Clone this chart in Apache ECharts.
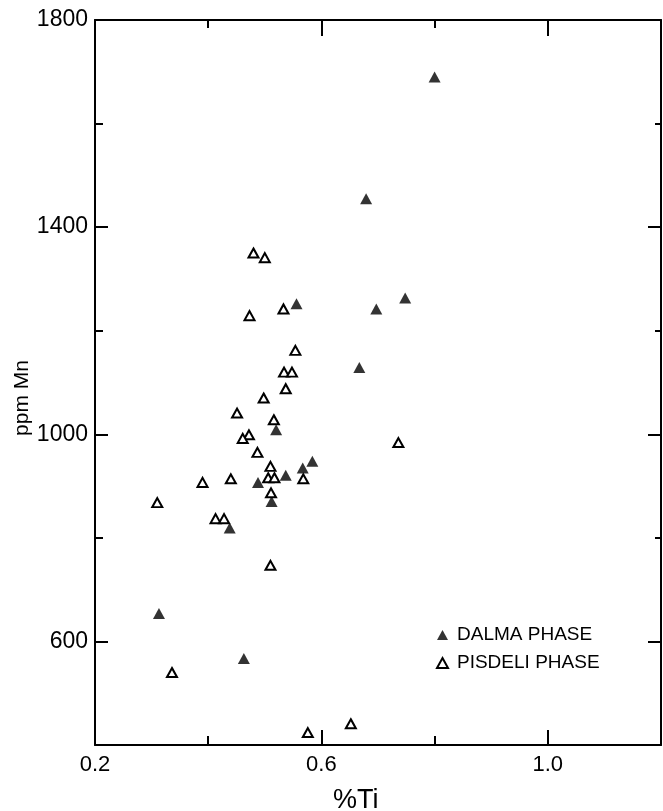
<!DOCTYPE html>
<html>
<head>
<meta charset="utf-8">
<script src="https://cdn.jsdelivr.net/npm/echarts@6/dist/echarts.min.js"></script>
<style>html,body{margin:0;padding:0;background:#fff}#c{width:663px;height:811px}</style>
</head>
<body>
<div id="c"></div>
<script>
// ---- data ----
var dalma = [
  [0.800, 1690], [0.679, 1455], [0.748, 1263], [0.556, 1252], [0.697, 1242],
  [0.667, 1129], [0.520, 1009], [0.584, 948], [0.567, 935], [0.537, 921],
  [0.488, 907], [0.512, 870], [0.438, 819], [0.313, 654], [0.463, 567]
];
var pisdeli = [
  [0.480, 1350], [0.500, 1341], [0.473, 1229], [0.533, 1242], [0.554, 1162],
  [0.534, 1120], [0.548, 1120], [0.537, 1088], [0.498, 1070], [0.451, 1041],
  [0.516, 1028], [0.472, 999], [0.461, 992], [0.487, 965], [0.510, 938],
  [0.506, 916], [0.517, 916], [0.568, 914], [0.440, 914], [0.390, 907],
  [0.511, 887], [0.310, 868], [0.413, 837], [0.428, 837], [0.510, 747],
  [0.336, 540], [0.576, 424], [0.652, 441], [0.736, 984]
];
var xLabels = [0.2, 0.6, 1.0];
var xMajorTicks = [0.6, 1.0];
var xMinorTicks = [0.4, 0.8];
var yLabels = [600, 1000, 1400, 1800];
var yMajorTicks = [600, 1000, 1400];
var yMinorTicks = [800, 1200, 1600];

var FONT = 'Liberation Sans';
var lineStyle = {color: '#000', width: 2};

function xAxisDef(pos, ticks, len, showLine, labels) {
  return {
    type: 'value', position: pos, min: 0.2, max: 1.2,
    axisLine: {show: showLine, onZero: false, lineStyle: lineStyle},
    axisTick: {show: true, inside: true, length: len, customValues: ticks, lineStyle: {color: '#000', width: 2}},
    axisLabel: labels ? {show: true, customValues: labels, margin: 9, color: '#000', fontFamily: FONT, fontSize: 22,
      formatter: function (v) { return Number(v).toFixed(1); }} : {show: false},
    splitLine: {show: false}
  };
}
function yAxisDef(pos, ticks, len, showLine, labels) {
  return {
    type: 'value', position: pos, min: 400, max: 1800,
    axisLine: {show: showLine, onZero: false, lineStyle: lineStyle},
    axisTick: {show: true, inside: true, length: len, customValues: ticks, lineStyle: {color: '#000', width: 2}},
    axisLabel: labels ? {show: true, customValues: labels, margin: 7, color: '#000', fontFamily: FONT, fontSize: 23,
      formatter: function (v) { return String(v); }} : {show: false},
    splitLine: {show: false}
  };
}

var option = {
  backgroundColor: '#fff',
  animation: false,
  grid: {left: 95, right: 2, top: 20, bottom: 66, containLabel: false},
  title: {text: '%Ti', left: 328, top: 782, textStyle: {fontFamily: FONT, fontSize: 27, fontWeight: 'normal', color: '#000'}},
  graphic: [{
    type: 'text', x: 22, y: 398, rotation: Math.PI / 2,
    style: {text: 'ppm Mn', fontFamily: FONT, fontSize: 21, fill: '#000', align: 'center', verticalAlign: 'middle'}
  }],
  legend: {
    orient: 'vertical', left: 431, top: 620, icon: 'triangle',
    itemWidth: 11, itemHeight: 10, itemGap: 8,
    textStyle: {fontFamily: FONT, fontSize: 19, color: '#000', lineHeight: 20, padding: [0, 0, 0, 4]},
    data: ['DALMA PHASE', 'PISDELI PHASE']
  },
  xAxis: [
    xAxisDef('bottom', xMajorTicks, 15, true, xLabels),
    xAxisDef('bottom', xMinorTicks, 9, false, null),
    xAxisDef('top', xMajorTicks, 16, true, null),
    xAxisDef('top', xMinorTicks, 8, false, null)
  ],
  yAxis: [
    yAxisDef('left', yMajorTicks, 13, true, yLabels),
    yAxisDef('left', yMinorTicks, 8, false, null),
    yAxisDef('right', yMajorTicks, 13, true, null),
    yAxisDef('right', yMinorTicks, 6, false, null)
  ],
  series: [
    {
      name: 'DALMA PHASE', type: 'scatter', xAxisIndex: 0, yAxisIndex: 0,
      symbol: 'triangle', symbolSize: [12, 11],
      itemStyle: {color: '#000'},
      data: dalma
    },
    {
      name: 'PISDELI PHASE', type: 'scatter', xAxisIndex: 0, yAxisIndex: 0,
      symbol: 'triangle', symbolSize: [10, 9],
      itemStyle: {color: '#fff', borderColor: '#000', borderWidth: 2, opacity: 1},
      data: pisdeli
    }
  ]
};
var chart = echarts.init(document.getElementById('c'), null, {renderer: 'canvas'});
chart.setOption(option);
</script>
</body>
</html>
